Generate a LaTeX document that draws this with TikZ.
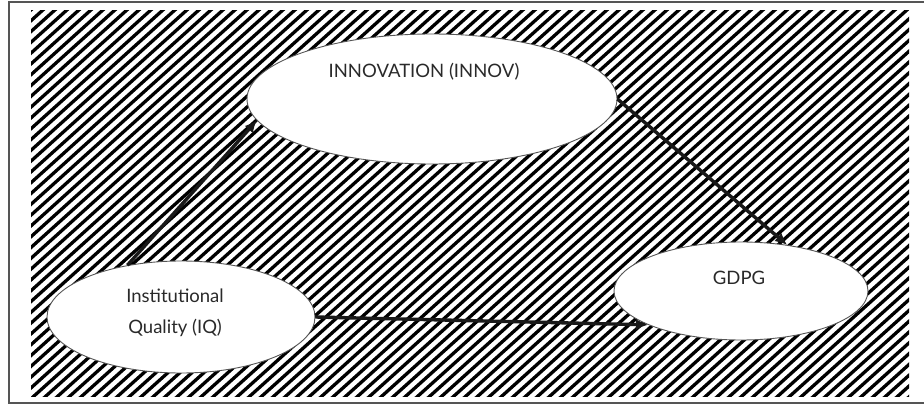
\documentclass[tikz,border=0pt]{standalone}
\usepackage{fontspec}
\setmainfont{Lato}
\usetikzlibrary{arrows.meta,shapes.geometric}
\definecolor{inkgray}{HTML}{2A2A2A}
\definecolor{rimgray}{HTML}{555555}
\tikzset{
  oval/.style={ellipse, draw=rimgray, line width=0.9pt, fill=white, inner sep=0pt},
  ovaltext/.style={text=inkgray, font=\fontsize{18.5}{31}\selectfont, align=center},
  link/.style={draw=black!90, line width=3.4pt, -{Latex[length=12pt,width=11pt]}},
  hatch/.style={line width=3.3pt, black}}

\begin{document}
\begin{tikzpicture}[x=1pt,y=1pt]
  \useasboundingbox (0,0) rectangle (924,405);
  \fill[white] (0,0) rectangle (924,405);
  \draw[rimgray, line width=1.6pt] (9,2) rectangle (940,403);
  % striped background
  \begin{scope}
    \clip (31,9) rectangle (909,394);
    \foreach \i in {-480,-468,...,910}
      \draw[hatch] (\i,0) -- ++(450,405);
  \end{scope}
  \node[oval, minimum width=370pt, minimum height=130pt] (innov) at (432,306) {};
  \node[oval, minimum width=268pt, minimum height=112pt] (iq) at (181,88) {};
  \node[oval, minimum width=254pt, minimum height=98pt] (gdpg) at (741,114) {};
  \node[ovaltext] (innovtxt) at ([xshift=-8pt,yshift=27pt]innov.center) {INNOVATION (INNOV)};
  \node[ovaltext] (iqtxt) at ([xshift=-6pt,yshift=4pt]iq.center) {Institutional\\Quality (IQ)};
  \node[ovaltext] (gdpgtxt) at ([xshift=-2pt,yshift=13pt]gdpg.center) {GDPG};
  \draw[link] (iq.136) -- (innov.187);
  \draw[link] (innov.east) -- (gdpg.45);
  \draw[link] (iq.east) -- (gdpg.200);
\end{tikzpicture}
\end{document}
